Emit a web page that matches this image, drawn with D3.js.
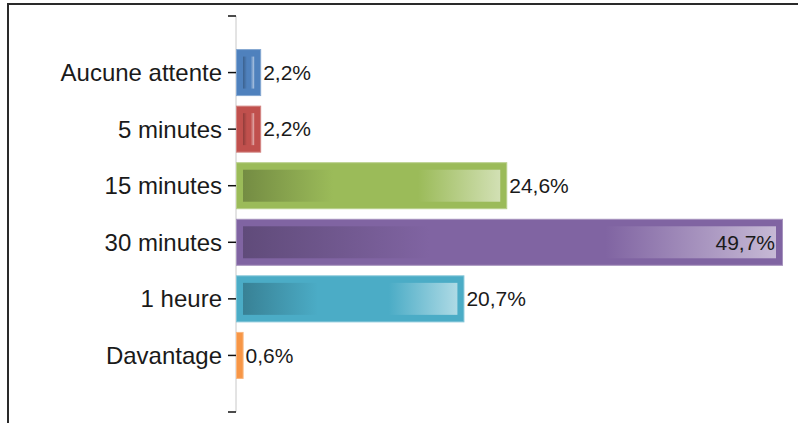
<!DOCTYPE html>
<html>
<head>
  <meta charset="utf-8">
  <title>Temps d'attente</title>
  <script src="https://cdn.jsdelivr.net/npm/d3@7"></script>
  <style>
    body { margin: 0; background: #fff; }
    text { font-family: "Liberation Sans", Arial, sans-serif; fill: #1a1a1a; }
  </style>
</head>
<body>
  <script type="text/javascript">

    // Categories and percentages
    var categories = ["Aucune attente", "5 minutes", "15 minutes", "30 minutes", "1 heure", "Davantage"];
    var values = [2.2, 2.2, 24.6, 49.7, 20.7, 0.6];

    // Office-like palette, one per bar
    var palette = ["#4f81bd", "#c0504d", "#9bbb59", "#8064a2", "#4bacc6", "#f79646"];

    var W = 798, H = 423;
    var axisX = 236;

    // rows built from the arrays above
    var rows = categories.map(function (c, i) { return { cat: c, value: values[i], idx: i }; });

    var svg = d3.select("body").append("svg")
      .attr("width", W)
      .attr("height", H);

    // frame: only top and left edges are visible
    svg.append("path")
      .attr("d", "M8," + H + "V4H" + W)
      .attr("fill", "none")
      .attr("stroke", "#2a2a2a")
      .attr("stroke-width", 2);

    var x = d3.scaleLinear()
      .domain([0, d3.max(values)])
      .range([0, 546]);

    var y = d3.scalePoint()
      .domain(categories)
      .range([16, 412])
      .padding(1);

    var barH = 46, inset = 7;

    // gradients: darker at the left, base colour in the middle, paler at the right
    var defs = svg.append("defs");
    palette.forEach(function (c, i) {
      var g = defs.append("linearGradient")
        .attr("id", "grad" + i)
        .attr("x1", 0).attr("x2", 1).attr("y1", 0).attr("y2", 0);
      g.append("stop").attr("offset", 0).attr("stop-color", d3.interpolateRgb(c, "#000")(0.25));
      g.append("stop").attr("offset", 0.35).attr("stop-color", c);
      g.append("stop").attr("offset", 0.68).attr("stop-color", c);
      g.append("stop").attr("offset", 1).attr("stop-color", d3.interpolateRgb(c, "#fff")(0.55));
    });

    var plot = svg.append("g").attr("transform", "translate(" + axisX + ",0)");

    // axis line (light) with dark ticks
    plot.append("line")
      .attr("x1", 0).attr("x2", 0)
      .attr("y1", 16).attr("y2", 412)
      .attr("stroke", "#c8c8c8");

    var tickYs = [16, 412].concat(categories.map(function (d) { return y(d); }));
    plot.selectAll(".tick").data(tickYs).enter().append("line")
      .attr("x1", -8).attr("x2", 0)
      .attr("y1", function (d) { return d; })
      .attr("y2", function (d) { return d; })
      .attr("stroke", "#111")
      .attr("stroke-width", 1.5);

    plot.selectAll(".cat").data(categories).enter().append("text")
      .attr("x", -14)
      .attr("y", function (d) { return y(d); })
      .attr("dy", "0.35em")
      .attr("text-anchor", "end")
      .style("font-size", "24px")
      .text(function (d) { return d; });

    var bars = plot.selectAll(".bar").data(rows).enter().append("g");

    bars.append("rect")
      .attr("x", 0.5)
      .attr("y", function (d) { return y(d.cat) - barH / 2; })
      .attr("width", function (d) { return x(d.value); })
      .attr("height", barH)
      .attr("fill", function (d) { return palette[d.idx]; })
      .attr("stroke", function (d) { return d3.interpolateRgb(palette[d.idx], "#fff")(0.3); })
      .attr("stroke-width", 1);

    bars.filter(function (d) { return x(d.value) > 2 * inset + 4; })
      .append("rect")
      .attr("x", inset)
      .attr("y", function (d) { return y(d.cat) - barH / 2 + inset; })
      .attr("width", function (d) { return x(d.value) - 2 * inset + 1; })
      .attr("height", barH - 2 * inset)
      .attr("fill", function (d) { return "url(#grad" + d.idx + ")"; });

    var fmt = function (v) { return d3.format(".1f")(v).replace(".", ",") + "%"; };

    // value labels: after the bar, or inside its end when there is no room
    bars.append("text")
      .attr("y", function (d) { return y(d.cat); })
      .attr("dy", "0.35em")
      .style("font-size", "21px")
      .text(function (d) { return fmt(d.value); })
      .each(function (d) {
        var t = d3.select(this);
        var w = this.getComputedTextLength();
        if (axisX + x(d.value) + 4 + w > W - 6) {
          t.attr("x", x(d.value) - 7).attr("text-anchor", "end");
        } else {
          t.attr("x", x(d.value) + 3).attr("text-anchor", "start");
        }
      });
  </script>
</body>
</html>
